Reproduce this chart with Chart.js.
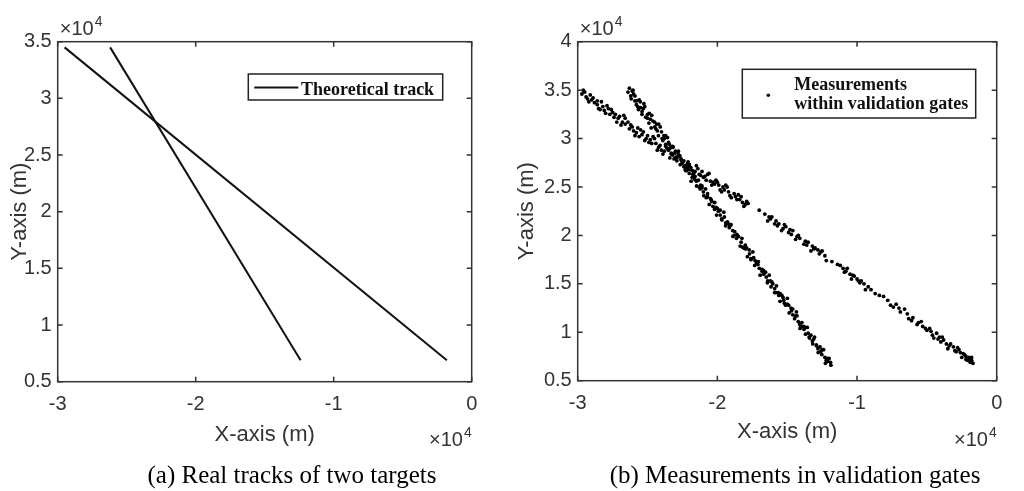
<!DOCTYPE html>
<html>
<head>
<meta charset="utf-8">
<script src="https://cdn.jsdelivr.net/npm/chart.js@4.4.1/dist/chart.umd.min.js"></script>
<style>
  html, body { margin: 0; padding: 0; background: #fff; }
  .wrap { position: absolute; top: 0; width: 512px; height: 491px; }
  #left { left: 0; }
  #right { left: 512px; }
</style>
</head>
<body>
<div class="wrap" id="left"><canvas id="c1"></canvas></div>
<div class="wrap" id="right"><canvas id="c2"></canvas></div>
<script>
// all positions in units of 10^4 m (axes show the x10^4 multiplier)
const xTicks = [-3, -2, -1, 0];
const yTicksA = [0.5, 1, 1.5, 2, 2.5, 3, 3.5];
const yTicksB = [0.5, 1, 1.5, 2, 2.5, 3, 3.5, 4];

// (a) theoretical tracks, start / end points
const trackA = [[-2.95, 3.45], [-0.18, 0.69]];
const trackB = [[-2.62, 3.45], [-1.24, 0.69]];

const measA = [
  [-2.97,3.46],[-2.95,3.48],[-2.93,3.41],[-2.91,3.45],[-2.88,3.37],[-2.86,3.39],[-2.84,3.30],[-2.82,3.33],
  [-2.79,3.34],[-2.77,3.25],[-2.75,3.27],[-2.72,3.17],[-2.70,3.23],[-2.68,3.17],[-2.66,3.21],[-2.63,3.10],
  [-2.61,3.12],[-2.59,3.03],[-2.57,3.11],[-2.54,3.04],[-2.52,2.98],[-2.50,3.03],[-2.47,2.95],[-2.45,3.00],
  [-2.43,2.88],[-2.41,2.93],[-2.38,2.87],[-2.36,2.90],[-2.34,2.80],[-2.32,2.83],[-2.29,2.77],[-2.27,2.82],
  [-2.25,2.75],[-2.22,2.67],[-2.20,2.73],[-2.18,2.67],[-2.15,2.72],[-2.13,2.63],[-2.11,2.66],[-2.08,2.57],
  [-2.06,2.64],[-2.03,2.55],[-2.01,2.57],[-1.98,2.47],[-1.96,2.50],[-1.93,2.50],[-1.91,2.41],[-1.88,2.43],
  [-1.86,2.37],[-1.83,2.40],[-1.81,2.30],[-1.78,2.33],[-1.66,2.22],[-1.64,2.15],[-1.61,2.19],[-1.59,2.12],
  [-1.56,2.12],[-1.54,2.05],[-1.51,2.09],[-1.49,2.03],[-1.46,2.05],[-1.44,1.96],[-1.41,1.97],[-1.38,1.91],
  [-1.35,1.93],[-1.33,1.84],[-1.30,1.87],[-1.27,1.81],[-1.25,1.84],[-1.22,1.74],[-1.12,1.69],[-1.09,1.62],
  [-1.07,1.66],[-1.04,1.55],[-1.02,1.58],[-0.99,1.53],[-0.97,1.53],[-0.94,1.44],[-0.92,1.47],[-0.87,1.40],
  [-0.81,1.37],[-0.76,1.28],[-0.72,1.29],[-0.69,1.21],[-0.66,1.24],[-0.63,1.14],[-0.60,1.15],[-0.57,1.08],
  [-0.54,1.11],[-0.51,1.04],[-0.48,1.04],[-0.45,0.94],[-0.43,0.99],[-0.40,0.90],[-0.38,0.92],[-0.35,0.83],
  [-0.33,0.88],[-0.30,0.81],[-0.28,0.84],[-0.25,0.74],[-0.23,0.77],[-0.21,0.71],[-0.19,0.72],[-0.17,0.68],
  [-2.94,3.43],[-2.90,3.40],[-2.86,3.35],[-2.81,3.29],[-2.76,3.30],[-2.71,3.21],[-2.66,3.15],[-2.62,3.14],
  [-2.58,3.06],[-2.55,3.09],[-2.51,3.00],[-2.48,2.99],[-2.44,2.95],[-2.40,2.88],[-2.37,2.92],[-2.33,2.85],
  [-2.30,2.80],[-2.26,2.78],[-2.23,2.72],[-2.19,2.70],[-2.16,2.66],[-2.12,2.62],[-2.09,2.61],[-2.05,2.56],
  [-2.02,2.53],[-1.99,2.52],[-1.95,2.47],[-1.92,2.45],[-1.87,2.40],[-1.84,2.37],[-1.80,2.32],[-1.63,2.19],
  [-1.58,2.15],[-1.53,2.07],[-1.48,2.06],[-1.43,1.99],[-1.37,1.94],[-1.31,1.86],[-1.26,1.83],[-1.10,1.66],
  [-1.05,1.60],[-1.00,1.55],[-0.95,1.50],[-0.53,1.06],[-0.47,1.01],[-0.41,0.95],[-0.36,0.88],[-0.31,0.85],
  [-0.26,0.79],[-0.22,0.75],[-0.20,0.74],[-0.18,0.71],
  [-2.96,3.50],[-2.92,3.38],[-2.89,3.42],[-2.85,3.31],[-2.83,3.38],[-2.80,3.26],[-2.78,3.31],[-2.74,3.22],
  [-2.73,3.25],[-2.69,3.14],[-2.67,3.24],[-2.64,3.17],[-2.60,3.08],[-2.56,3.02],[-2.53,3.07],[-2.49,2.96],
  [-2.46,3.02],[-2.42,2.91],[-2.39,2.84],[-2.35,2.88],[-2.31,2.79],[-2.28,2.84],[-2.24,2.71],[-2.21,2.76],
  [-2.17,2.64],[-2.14,2.69],[-2.10,2.60],[-2.07,2.63],[-2.04,2.52],[-2.00,2.55],[-1.97,2.45],[-1.94,2.52],
  [-1.90,2.39],[-1.85,2.42],[-1.82,2.34],[-1.79,2.35],[-1.70,2.26],[-1.62,2.17],[-1.57,2.10],[-1.52,2.11],
  [-1.47,2.01],[-1.42,2.00],[-1.36,1.90],[-1.32,1.89],[-1.28,1.85],[-1.23,1.79],[-1.18,1.73],[-1.14,1.70],
  [-1.08,1.63],[-1.03,1.59],[-0.98,1.51],[-0.90,1.44],[-0.84,1.38],[-0.78,1.33],[-0.74,1.26],[-0.70,1.25],
  [-0.64,1.19],[-0.61,1.12],[-0.56,1.10],[-0.50,1.02],[-0.46,0.97],[-0.42,0.93],[-0.39,0.95],[-0.34,0.86],
  [-0.29,0.80],[-0.27,0.82],[-0.24,0.78],[-0.22,0.72],[-0.19,0.69],[-0.18,0.74]
];

// (b) measurements, steep track
const measB = [
  [-2.630,3.52],[-2.617,3.41],[-2.604,3.50],[-2.591,3.39],[-2.578,3.39],[-2.565,3.30],[-2.552,3.38],[-2.539,3.28],
  [-2.526,3.36],[-2.513,3.22],[-2.500,3.25],[-2.487,3.26],[-2.474,3.11],[-2.461,3.18],[-2.448,3.12],[-2.435,3.15],
  [-2.422,3.03],[-2.409,3.12],[-2.396,3.00],[-2.383,3.03],[-2.370,2.94],[-2.357,3.01],[-2.344,2.94],[-2.331,2.84],
  [-2.318,2.91],[-2.305,2.85],[-2.292,2.81],[-2.279,2.87],[-2.266,2.73],[-2.253,2.77],[-2.240,2.77],[-2.227,2.67],
  [-2.214,2.74],[-2.201,2.64],[-2.188,2.56],[-2.175,2.63],[-2.162,2.58],[-2.149,2.51],[-2.136,2.57],[-2.123,2.48],
  [-2.110,2.49],[-2.097,2.41],[-2.084,2.48],[-2.071,2.40],[-2.058,2.32],[-2.045,2.37],[-2.032,2.30],[-2.019,2.34],
  [-2.006,2.21],[-1.993,2.25],[-1.980,2.26],[-1.967,2.16],[-1.954,2.24],[-1.941,2.10],[-1.928,2.14],[-1.915,2.08],
  [-1.902,2.11],[-1.889,1.99],[-1.876,2.04],[-1.863,1.97],[-1.850,1.99],[-1.837,1.89],[-1.824,1.97],[-1.811,1.87],
  [-1.798,1.86],[-1.785,1.78],[-1.772,1.85],[-1.759,1.75],[-1.746,1.83],[-1.733,1.69],[-1.720,1.72],[-1.707,1.73],
  [-1.694,1.59],[-1.681,1.65],[-1.668,1.60],[-1.655,1.62],[-1.642,1.51],[-1.629,1.59],[-1.616,1.47],[-1.603,1.50],
  [-1.590,1.41],[-1.577,1.48],[-1.564,1.41],[-1.551,1.32],[-1.538,1.38],[-1.525,1.33],[-1.512,1.28],[-1.499,1.35],
  [-1.486,1.20],[-1.473,1.25],[-1.460,1.24],[-1.447,1.14],[-1.434,1.21],[-1.421,1.11],[-1.408,1.04],[-1.395,1.10],
  [-1.382,1.06],[-1.369,0.98],[-1.356,1.05],[-1.343,0.95],[-1.330,0.97],[-1.317,0.88],[-1.304,0.95],[-1.291,0.87],
  [-1.278,0.79],[-1.265,0.85],[-1.252,0.77],[-1.239,0.82],[-1.226,0.68],[-1.213,0.73],[-1.200,0.73],[-1.187,0.66],
  [-2.62,3.44],[-2.60,3.46],[-2.58,3.35],[-2.55,3.32],[-2.53,3.31],[-2.50,3.21],[-2.48,3.20],[-2.45,3.17],
  [-2.43,3.08],[-2.40,3.07],[-2.38,3.00],[-2.35,2.96],[-2.33,2.91],[-2.30,2.87],[-2.27,2.82],[-2.25,2.75],
  [-2.22,2.70],[-2.20,2.68],[-2.17,2.60],[-2.15,2.56],[-2.12,2.52],[-2.10,2.45],[-2.07,2.43],[-2.04,2.35],
  [-2.01,2.29],[-1.98,2.21],[-1.95,2.19],[-1.92,2.12],[-1.89,2.05],[-1.86,2.01],[-1.83,1.93],[-1.80,1.90],
  [-1.77,1.81],[-1.74,1.77],[-1.71,1.70],[-1.68,1.63],[-1.65,1.57],[-1.62,1.53],[-1.59,1.45],[-1.56,1.38],
  [-1.53,1.36],[-1.50,1.29],[-1.47,1.22],[-1.44,1.17],[-1.41,1.08],[-1.38,1.03],[-1.35,0.99],[-1.32,0.91],
  [-1.29,0.86],[-1.26,0.80],[-1.23,0.74],[-1.21,0.70],
  [-2.64,3.48],[-2.61,3.49],[-2.59,3.44],[-2.57,3.33],[-2.56,3.40],[-2.54,3.25],[-2.52,3.33],[-2.49,3.16],
  [-2.47,3.24],[-2.44,3.10],[-2.42,3.15],[-2.39,2.98],[-2.37,3.03],[-2.34,2.90],[-2.32,2.92],[-2.29,2.80],
  [-2.26,2.79],[-2.23,2.68],[-2.21,2.71],[-2.18,2.60],[-2.16,2.61],[-2.13,2.50],[-2.11,2.51],[-2.08,2.39],
  [-2.05,2.38],[-2.02,2.27],[-2.00,2.28],[-1.97,2.17],[-1.94,2.13],[-1.91,2.10],[-1.88,2.00],[-1.85,1.99],
  [-1.82,1.88],[-1.79,1.87],[-1.76,1.76],[-1.73,1.74],[-1.70,1.66],[-1.67,1.64],[-1.64,1.53],[-1.61,1.52],
  [-1.58,1.41],[-1.55,1.40],[-1.52,1.30],[-1.49,1.28],[-1.46,1.18],[-1.43,1.17],[-1.40,1.06],[-1.37,1.05],
  [-1.34,0.94],[-1.31,0.93],[-1.28,0.83],[-1.25,0.82],[-1.22,0.71],[-1.19,0.69]
];

const AXIS = '#333333';
const SANS = '"Liberation Sans", Arial, sans-serif';
const SERIF = '"Liberation Serif", "Times New Roman", serif';

const toXY = arr => arr.map(p => ({ x: p[0], y: p[1] }));
const fmt = v => String(Math.round(v * 100) / 100);

function drawExp(ctx, x, y, alignRight) {
  ctx.font = '20px ' + SANS;
  const w1 = ctx.measureText('\u00d710').width;
  ctx.font = '14px ' + SANS;
  const w2 = ctx.measureText('4').width;
  const x0 = alignRight ? x - w1 - w2 - 1 : x;
  ctx.textAlign = 'left';
  ctx.textBaseline = 'alphabetic';
  ctx.font = '20px ' + SANS;
  ctx.fillText('\u00d710', x0, y);
  ctx.font = '14px ' + SANS;
  ctx.fillText('4', x0 + w1 + 1, y - 9);
}

// matlab style box, inward ticks, titles, legend and caption
const matlabAxes = {
  id: 'matlabAxes',
  afterDraw(chart, args, o) {
    const ctx = chart.ctx, a = chart.chartArea;
    const sx = chart.scales.x, sy = chart.scales.y;
    ctx.save();
    ctx.strokeStyle = AXIS;
    ctx.lineWidth = 1.5;
    ctx.strokeRect(a.left, a.top, a.right - a.left, a.bottom - a.top);
    ctx.beginPath();
    sx.ticks.forEach(t => {
      const p = sx.getPixelForValue(t.value);
      ctx.moveTo(p, a.bottom); ctx.lineTo(p, a.bottom - 5);
      ctx.moveTo(p, a.top); ctx.lineTo(p, a.top + 5);
    });
    sy.ticks.forEach(t => {
      const p = sy.getPixelForValue(t.value);
      ctx.moveTo(a.left, p); ctx.lineTo(a.left + 5, p);
      ctx.moveTo(a.right, p); ctx.lineTo(a.right - 5, p);
    });
    ctx.stroke();

    ctx.fillStyle = AXIS;
    drawExp(ctx, a.left + 2, 35, false);
    drawExp(ctx, a.right, 446, true);

    // axis titles
    ctx.font = '22px ' + SANS;
    ctx.textAlign = 'center';
    ctx.textBaseline = 'alphabetic';
    ctx.fillText('X-axis (m)', (a.left + a.right) / 2, o.xTitleY);
    ctx.save();
    ctx.translate(o.yTitleX, (a.top + a.bottom) / 2);
    ctx.rotate(-Math.PI / 2);
    ctx.textBaseline = 'middle';
    ctx.fillText('Y-axis (m)', 0, 0);
    ctx.restore();

    // legend
    const L = o.legend;
    ctx.fillStyle = '#fff';
    ctx.fillRect(L.x, L.y, L.w, L.h);
    ctx.strokeStyle = '#222';
    ctx.lineWidth = 1.5;
    ctx.strokeRect(L.x, L.y, L.w, L.h);
    ctx.fillStyle = '#111';
    ctx.strokeStyle = '#111';
    if (L.kind === 'line') {
      ctx.lineWidth = 2;
      ctx.beginPath();
      ctx.moveTo(L.x + 6, L.y + 13.5);
      ctx.lineTo(L.x + 50, L.y + 13.5);
      ctx.stroke();
    } else {
      ctx.beginPath();
      ctx.arc(L.x + 26, L.y + 26, 1.8, 0, Math.PI * 2);
      ctx.fill();
    }
    ctx.font = 'bold 18px ' + SERIF;
    ctx.textAlign = 'left';
    ctx.textBaseline = 'alphabetic';
    L.lines.forEach((s, i) => ctx.fillText(s, L.tx, L.ty + i * 18.7));

    // caption under the panel
    ctx.fillStyle = '#000';
    ctx.font = '25px ' + SERIF;
    ctx.textAlign = 'center';
    ctx.fillText(o.caption, o.captionX, 483);
    ctx.restore();
  }
};

function axesOptions(yMax, yWidth, xHeight, ticksY) {
  const tickFont = { family: SANS, size: 20 };
  return {
    x: {
      type: 'linear', min: -3, max: 0,
      afterBuildTicks: s => { s.ticks = xTicks.map(v => ({ value: v })); },
      afterFit: s => { s.height = xHeight; },
      grid: { display: false, drawTicks: false },
      border: { display: false },
      ticks: { color: AXIS, font: tickFont, padding: 11, maxRotation: 0, callback: fmt }
    },
    y: {
      type: 'linear', min: 0.5, max: yMax,
      afterBuildTicks: s => { s.ticks = ticksY.map(v => ({ value: v })); },
      afterFit: s => { s.width = yWidth; },
      grid: { display: false, drawTicks: false },
      border: { display: false },
      ticks: { color: AXIS, font: tickFont, padding: 6, callback: fmt }
    }
  };
}

new Chart(document.getElementById('c1'), {
  type: 'scatter',
  data: {
    datasets: [
      { label: 'Theoretical track', data: toXY(trackA), showLine: true, borderColor: '#111', borderWidth: 2, pointRadius: 0 },
      { label: 'Theoretical track', data: toXY(trackB), showLine: true, borderColor: '#111', borderWidth: 2, pointRadius: 0 }
    ]
  },
  options: {
    responsive: true,
    maintainAspectRatio: false,
    animation: false,
    events: [],
    layout: { padding: { left: 0, right: 40.3, top: 41.7, bottom: 0 } },
    scales: axesOptions(3.5, 57.7, 109.3, yTicksA),
    plugins: {
      legend: { display: false },
      tooltip: { enabled: false },
      matlabAxes: {
        xTitleY: 441, yTitleX: 20,
        caption: '(a) Real tracks of two targets', captionX: 292,
        legend: { kind: 'line', x: 248.3, y: 74, w: 194.4, h: 26, tx: 301, ty: 95, lines: ['Theoretical track'] }
      }
    }
  },
  plugins: [matlabAxes]
});

new Chart(document.getElementById('c2'), {
  type: 'scatter',
  data: {
    datasets: [
      { label: 'Measurements within validation gates', data: toXY(measA), backgroundColor: '#000', borderWidth: 0, pointRadius: 1.9 },
      { label: 'Measurements within validation gates', data: toXY(measB), backgroundColor: '#000', borderWidth: 0, pointRadius: 1.9 }
    ]
  },
  options: {
    responsive: true,
    maintainAspectRatio: false,
    animation: false,
    events: [],
    layout: { padding: { left: 0, right: 27.3, top: 41.7, bottom: 0 } },
    scales: axesOptions(4, 65.7, 110.3, yTicksB),
    plugins: {
      legend: { display: false },
      tooltip: { enabled: false },
      matlabAxes: {
        xTitleY: 438, yTitleX: 15,
        caption: '(b) Measurements in validation gates', captionX: 283,
        legend: { kind: 'dot', x: 230.3, y: 69.3, w: 233.4, h: 48.7, tx: 282.3, ty: 90, lines: ['Measurements', 'within validation gates'] }
      }
    }
  },
  plugins: [matlabAxes]
});
</script>
</body>
</html>
